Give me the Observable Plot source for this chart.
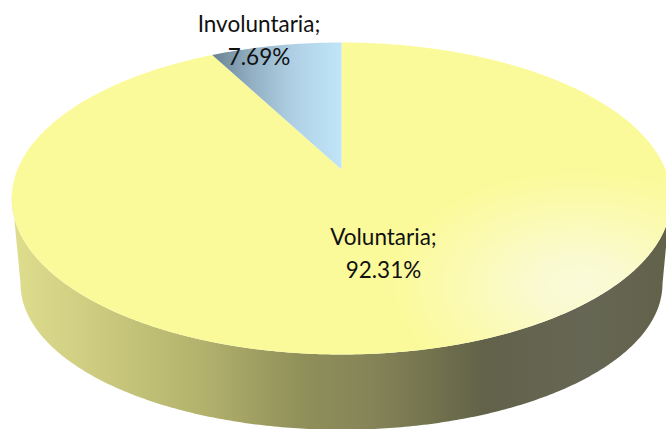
<!DOCTYPE html>
<html>
<head>
<meta charset="utf-8">
<style>html,body{margin:0;padding:0;background:#fff;overflow:hidden}svg{display:block}</style>
<script src="https://cdn.jsdelivr.net/npm/d3@7"></script>
<script src="https://cdn.jsdelivr.net/npm/@observablehq/plot@0.6"></script>
</head>
<body>
<script>
// Data
const categories = ["Voluntaria", "Involuntaria"];
const shares = [92.31, 7.69];
const shareLabels = ["92.31%", "7.69%"];
const sliceFills = ["url(#yellowTop)", "url(#blueTop)"];

// Perspective disc model
const K = 0.1859;
const topDisc = {cx: 341, y0: 169, a: 324, b: 150.6};
const baseDisc = {cx: 341, y0: 256, a: 315.4, b: 141};
const project = (disc, angle, r = 1) => {
  const u = Math.sin(angle) * r, v = Math.cos(angle) * r, w = 1 + K * v;
  return {x: disc.cx + disc.a * u / w, y: disc.y0 - disc.b * v / w};
};
const sweep = (disc, a0, a1) => {
  const n = Math.max(2, Math.ceil(Math.abs(a1 - a0) / 0.01));
  return d3.range(n + 1).map(i => project(disc, a0 + (a1 - a0) * i / n));
};

const arcs = d3.pie().sort(null)(shares);
const wedges = arcs.map(d => [{x: topDisc.cx, y: topDisc.y0}, ...sweep(topDisc, d.startAngle, d.endAngle)]);
// Visible wall: front part of the rim, between the two silhouette tangents
const tangent = Math.acos(-K);
const wall = [
  ...sweep(topDisc, tangent - 0.03, 2 * Math.PI - tangent + 0.03),
  ...sweep(baseDisc, 2 * Math.PI - tangent, tangent)
];

// Labels
const labelRadius = [0.504, 1.07];
const labelShift = [-1, -13];
const labels = arcs.map((d, i) => {
  const mid = (d.startAngle + d.endAngle) / 2;
  const p = project(topDisc, mid, labelRadius[i]);
  return {x: p.x + labelShift[i], y: p.y, text: `${categories[i]};\n${shareLabels[i]}`};
});

// Gradients
const sideStops = [[0, "#dfde8e"], [0.28, "#b5b46e"], [0.44, "#90905a"], [0.55, "#858458"], [0.63, "#75754f"], [0.72, "#62624a"], [0.88, "#666655"], [1, "#62624a"]];
const blueStops = [[0, "#6a8393"], [0.3, "#92afc3"], [0.65, "#b1d2e6"], [1, "#c0e5f8"]];
const yellowStops = [[0, "#fafad8"], [0.25, "#fafad0"], [0.6, "#fbfab5"], [1, "#fbfa9a"]];
function defs() {
  const d = d3.create("svg:defs");
  const linear = (id, x1, x2, stops) => {
    const g = d.append("linearGradient").attr("id", id).attr("gradientUnits", "userSpaceOnUse")
      .attr("x1", x1).attr("x2", x2).attr("y1", 0).attr("y2", 0);
    stops.forEach(([o, c]) => g.append("stop").attr("offset", o).attr("stop-color", c));
  };
  linear("sideGrad", 12, 666, sideStops);
  linear("blueTop", 212, 341, blueStops);
  const r = d.append("radialGradient").attr("id", "yellowTop").attr("gradientUnits", "userSpaceOnUse")
    .attr("cx", 0).attr("cy", 0).attr("r", 1)
    .attr("gradientTransform", "translate(580,285) scale(190,115)");
  yellowStops.forEach(([o, c]) => r.append("stop").attr("offset", o).attr("stop-color", c));
  return d.node();
}

const plot = Plot.plot({
  width: 666,
  height: 429,
  margin: 0,
  x: {domain: [0, 666], range: [0, 666], axis: null},
  y: {domain: [0, 429], range: [0, 429], axis: null},
  style: {background: "#fff", overflow: "hidden"},
  marks: [
    defs,
    Plot.line(wall, {x: "x", y: "y", fill: "url(#sideGrad)", stroke: "none", curve: "linear"}),
    ...wedges.map((w, i) => Plot.line(w, {x: "x", y: "y", fill: sliceFills[i], stroke: "none", curve: "linear"})),
    Plot.text(labels, {
      x: "x", y: "y", text: "text",
      fontFamily: "Lato", fontSize: 22.5, lineHeight: 1.47, fill: "#111", textAnchor: "middle"
    })
  ]
});
document.body.appendChild(plot);
</script>
</body>
</html>
